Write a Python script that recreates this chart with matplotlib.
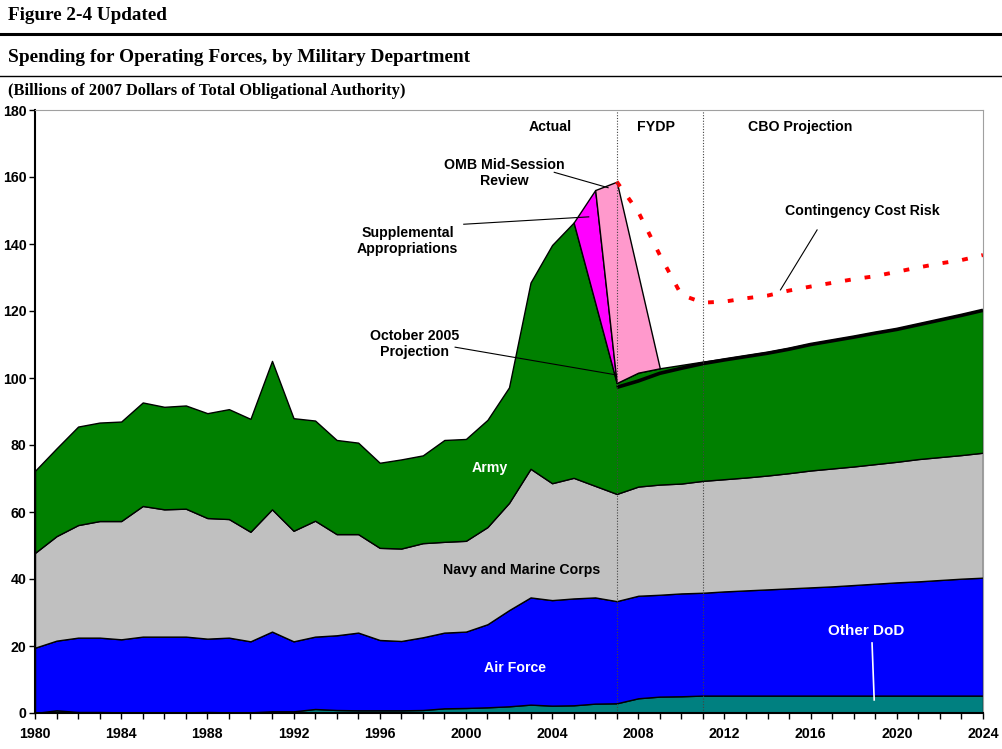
import numpy as np
import matplotlib.pyplot as plt

plt.rcParams['font.family'] = ['Liberation Sans', 'DejaVu Sans']

# Years on the x axis
years = np.arange(1980, 2025)

# Components, billions of 2007 dollars
other_dod = [0.0, 0.8, 0.3, 0.3, 0.2, 0.2, 0.2, 0.2, 0.3, 0.2,
             0.2, 0.5, 0.5, 1.2, 0.9, 0.8, 0.8, 0.8, 0.9, 1.4,
             1.5, 1.7, 2.0, 2.5, 2.2, 2.3, 2.8, 2.9, 4.4, 4.9,
             5.0, 5.2, 5.2, 5.2, 5.2, 5.2, 5.2, 5.2, 5.2, 5.2,
             5.2, 5.2, 5.2, 5.2, 5.2]
air_force = [19.5, 20.8, 22.2, 22.2, 21.8, 22.6, 22.6, 22.6, 21.9, 22.3,
             21.2, 23.8, 20.9, 21.6, 22.3, 23.2, 21.0, 20.7, 21.7, 22.6,
             22.8, 24.8, 28.7, 32.0, 31.5, 31.9, 31.7, 30.5, 30.6, 30.4,
             30.7, 30.7, 31.1, 31.4, 31.7, 32.0, 32.3, 32.6, 33.0, 33.4,
             33.8, 34.1, 34.5, 34.9, 35.2]
navy = [28.3, 31.2, 33.6, 34.8, 35.3, 39.0, 38.0, 38.2, 36.0, 35.4,
        32.7, 36.5, 33.0, 34.6, 30.2, 29.4, 27.5, 27.6, 28.1, 27.1,
        27.1, 29.0, 32.0, 38.4, 34.9, 36.0, 33.3, 32.0, 32.6, 32.9,
        32.8, 33.4, 33.5, 33.7, 34.0, 34.4, 34.9, 35.2, 35.4, 35.7,
        36.0, 36.5, 36.7, 36.9, 37.3]
army = [24.5, 26.2, 29.4, 29.4, 29.7, 30.9, 30.6, 30.8, 31.3, 32.8,
        33.7, 44.3, 33.6, 29.9, 28.1, 27.3, 25.4, 26.6, 26.2, 30.4,
        30.4, 32.0, 34.5, 55.6, 71.1, 76.2, 54.7, 33.1, 34.0, 34.7,
        35.4, 35.6, 36.0, 36.5, 36.9, 37.4, 37.9, 38.4, 38.9, 39.4,
        39.8, 40.4, 41.2, 42.0, 42.8]

# Supplemental appropriations and OMB mid-session review, stacked above Army
supp_years = [2005, 2006, 2007]
supplemental = [0.0, 33.6, 0.0]
omb_years = [2006, 2007, 2008, 2009]
omb_review = [0.0, 60.1, 29.2, 0.0]

# October 2005 projection (total)
oct_years = np.arange(2007, 2025)
oct2005 = [97.2, 99.1, 101.4, 102.9, 104.3, 105.4, 106.4, 107.4, 108.6,
           110.0, 111.1, 112.2, 113.4, 114.5, 115.9, 117.3, 118.7, 120.2]

# Contingency cost risk (total)
risk = [158.6, 149.6, 136.7, 124.8, 122.5, 122.8, 123.8, 124.6, 126.1,
        127.3, 128.4, 129.5, 130.4, 131.7, 133.0, 134.2, 135.2, 136.7]

fig = plt.figure(figsize=(10.03, 7.49), dpi=100)

# Header
fig.text(8 / 1003, 1 - 15 / 749, 'Figure 2-4 Updated', family='Liberation Serif',
         fontsize=13.8, fontweight='bold', va='center', ha='left')
fig.text(8 / 1003, 1 - 57 / 749, 'Spending for Operating Forces, by Military Department',
         family='Liberation Serif', fontsize=13.9, fontweight='bold', va='center', ha='left')
fig.text(8 / 1003, 1 - 91 / 749, '(Billions of 2007 Dollars of Total Obligational Authority)',
         family='Liberation Serif', fontsize=11.9, fontweight='bold', va='center', ha='left')
fig.add_artist(plt.Line2D([0, 1], [1 - 34 / 749] * 2, color='black', lw=2.2))
fig.add_artist(plt.Line2D([0, 1], [1 - 76 / 749] * 2, color='black', lw=1.0))

ax = fig.add_axes([35 / 1003, 1 - 713 / 749, 948 / 1003, 603 / 749])

other_a = np.array(other_dod)
af_top = other_a + np.array(air_force)
navy_top = af_top + np.array(navy)
army_top = navy_top + np.array(army)

edge = dict(edgecolor='black', linewidth=1.0)
ax.fill_between(years, 0, other_a, facecolor='#008080', **edge)
ax.fill_between(years, other_a, af_top, facecolor='#0000FF', **edge)
ax.fill_between(years, af_top, navy_top, facecolor='#C0C0C0', **edge)
ax.fill_between(years, navy_top, army_top, facecolor='#008000', **edge)

# supplemental and OMB layers on top of Army
army_at = dict(zip(years, army_top))
supp_base = np.array([army_at[y] for y in supp_years])
supp_top = supp_base + np.array(supplemental)
ax.fill_between(supp_years, supp_base, supp_top, facecolor='#FF00FF', **edge)
supp_at = dict(zip(supp_years, supp_top))
omb_base = np.array([supp_at.get(y, army_at[y]) for y in omb_years])
ax.fill_between(omb_years, omb_base, omb_base + np.array(omb_review),
                facecolor='#FF99CC', **edge)

ax.plot(oct_years, oct2005, color='black', lw=2.6, solid_capstyle='butt')
ax.plot(oct_years, risk, color='#FF0000', lw=2.8, dashes=(1.5, 3.6))

for xv in (2007, 2011):
    ax.axvline(xv, color='#444444', lw=0.8, ls=(0, (1, 1.5)))

ax.set_xlim(1980, 2024)
ax.set_ylim(0, 180)
ax.set_yticks(np.arange(0, 181, 20))
ax.set_xticks(np.arange(1980, 2025, 4))
ax.set_xticks(years, minor=True)
ax.tick_params(axis='both', which='both', direction='out', length=4, width=1,
               labelsize=10.2)
for lab in ax.get_xticklabels() + ax.get_yticklabels():
    lab.set_fontweight('bold')
ax.tick_params(axis='x', pad=6)
ax.tick_params(axis='y', pad=2)

ax.spines['left'].set_linewidth(1.5)
ax.spines['bottom'].set_linewidth(1.5)
ax.spines['top'].set_color('#A0A0A0')
ax.spines['right'].set_color('#A0A0A0')

lab = dict(fontsize=10.2, fontweight='bold', ha='center', va='center')
ax.text(2003.9, 174.8, 'Actual', **lab)
ax.text(2008.8, 174.8, 'FYDP', **lab)
ax.text(2015.5, 174.8, 'CBO Projection', **lab)
ax.text(2001.8, 161.2, 'OMB Mid-Session\nReview', linespacing=1.2, **lab)
ax.text(1997.3, 141.0, 'Supplemental\nAppropriations', linespacing=1.2, **lab)
ax.text(1997.6, 110.2, 'October 2005\nProjection', linespacing=1.2, **lab)
ax.text(2018.4, 149.8, 'Contingency Cost Risk', **lab)
ax.text(2001.1, 73.2, 'Army', color='white', **lab)
ax.text(2002.6, 42.8, 'Navy and Marine Corps', **lab)
ax.text(2002.3, 13.3, 'Air Force', color='white', **lab)
ax.text(2018.6, 24.6, 'Other DoD', color='white', fontsize=11,
        fontweight='bold', ha='center', va='center')

ax.plot([2004.1, 2006.6], [161.4, 156.8], color='black', lw=0.8)
ax.plot([1999.9, 2005.7], [145.9, 148.1], color='black', lw=0.8)
ax.plot([1999.5, 2007.0], [109.2, 100.9], color='black', lw=0.8)
ax.plot([2016.3, 2014.6], [144.2, 126.3], color='black', lw=0.8)
ax.plot([2018.85, 2018.95], [20.9, 3.9], color='white', lw=1.2)

fig.savefig('out.png', dpi=100)
